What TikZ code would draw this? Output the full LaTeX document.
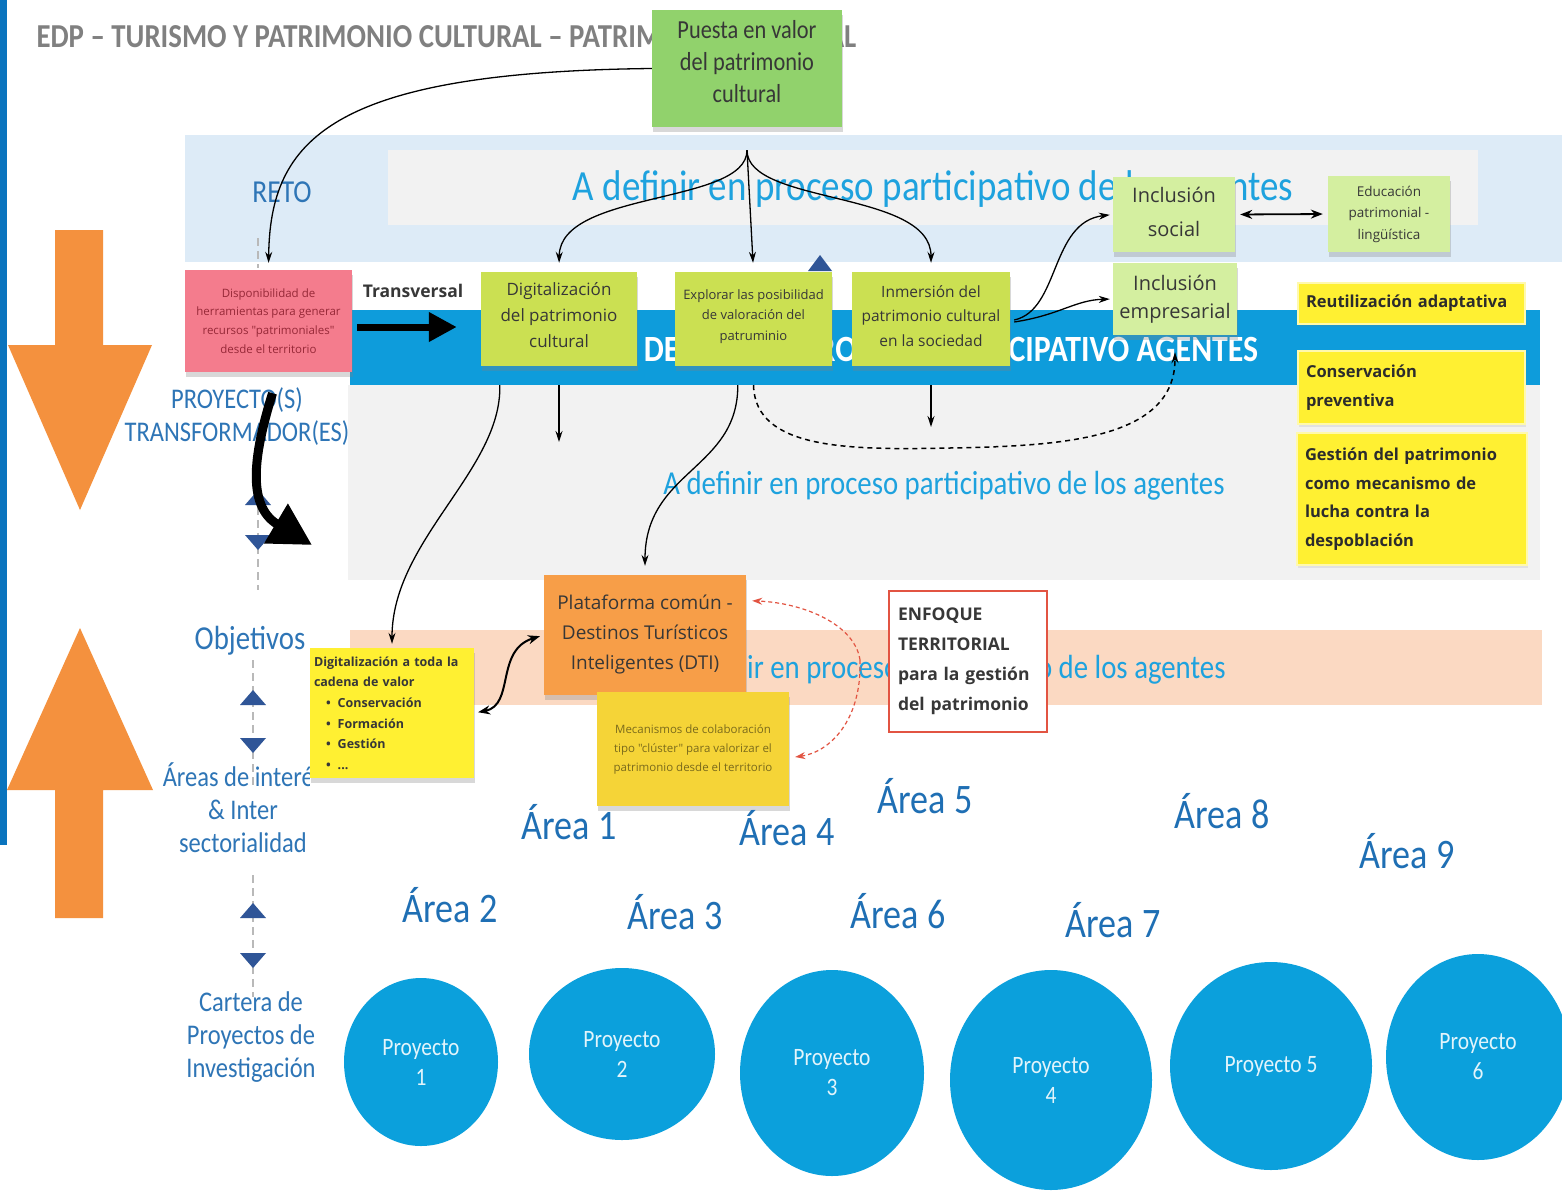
\documentclass[tikz,border=0pt]{standalone}
\usepackage{fontspec}
\setmainfont{Carlito}
\newfontfamily\lab[FakeStretch=0.86]{Carlito}
\newfontfamily\osn{Open Sans}
\usetikzlibrary{shapes.geometric, arrows.meta, shadows, calc}
\newcommand\fs[2]{\fontsize{#1}{#2}\selectfont}

\definecolor{cLeft}{RGB}{10,116,190}
\definecolor{cBand}{RGB}{221,235,247}
\definecolor{cGray}{RGB}{242,242,242}
\definecolor{cBar}{RGB}{14,156,219}
\definecolor{cPeach}{RGB}{251,217,194}
\definecolor{cBandTxt}{RGB}{30,162,222}
\definecolor{cLabel}{RGB}{46,117,182}
\definecolor{cArea}{RGB}{31,111,180}
\definecolor{cTitle}{RGB}{128,128,128}
\definecolor{cOrangeArrow}{RGB}{244,145,62}
\definecolor{cTri}{RGB}{47,85,151}
\definecolor{cSpine}{RGB}{185,185,185}
\definecolor{cGreen}{RGB}{145,210,108}
\definecolor{cPink}{RGB}{244,124,141}
\definecolor{cPinkTxt}{RGB}{150,40,55}
\definecolor{cLime}{RGB}{203,224,82}
\definecolor{cPale}{RGB}{212,239,160}
\definecolor{cYel}{RGB}{255,240,50}
\definecolor{cGold}{RGB}{245,212,55}
\definecolor{cOrange}{RGB}{247,158,72}
\definecolor{cRed}{RGB}{226,84,66}
\definecolor{cCircle}{RGB}{11,160,220}
\definecolor{cInk}{RGB}{55,55,55}

\begin{document}
\begin{tikzpicture}[x=1pt, y=-1pt,
    note/.style={rectangle, inner sep=2pt, align=center, text=cInk,
        drop shadow={opacity=0.3, shadow xshift=1pt, shadow yshift=-5pt}},
    yelbox/.style={rectangle, fill=cYel, draw=cYel!40!white, line width=1.5pt,
        inner xsep=8pt, inner ysep=2pt, align=left, text=cInk!80!black,
        font={\osn\bfseries\fs{16.5}{28.5}},
        drop shadow={opacity=0.15, shadow xshift=1pt, shadow yshift=-3pt}},
    sidetxt/.style={text=cLabel, align=center, font={\lab\fs{28.5}{33}}},
    bandtxt/.style={text=cBandTxt, font={\lab\fs{33.5}{38}}},
    arealbl/.style={text=cArea, font={\lab\fs{42}{46}}},
    proj/.style={ellipse, fill=cCircle, inner sep=0pt, align=center,
        text=white!88!cCircle, font={\lab\fs{25}{30}}},
    flow/.style={-{Stealth[length=11pt,width=7pt]}, line width=1.3pt},
    twoway/.style={{Stealth[length=12pt,width=9pt]}-{Stealth[length=12pt,width=9pt]}, line width=1.8pt},
    dashflow/.style={-{Stealth[length=11pt,width=7pt]}, line width=1.5pt, dash pattern=on 5pt off 4pt},
    redflow/.style={-{Stealth[length=10pt,width=7pt]}, line width=1.2pt, cRed, dash pattern=on 4pt off 3pt},
    fat/.style={-{Triangle[length=28pt,width=28pt]}, line width=7pt},
    spine/.style={cSpine, line width=1.5pt, dash pattern=on 8pt off 5pt},
    tri/.style={fill=cTri}]
    \useasboundingbox (0,0) rectangle (1562,1191);
    \fill[white] (0,0) rectangle (1562,1191);
    \fill[cLeft] (0,0) rectangle (7,845);

    % bands
    \fill[cBand] (185,135) rectangle (1562,262);
    \fill[cGray] (388,150) rectangle (1478,225);
    \fill[cBar] (350,310) rectangle (1540,385);
    \fill[cGray] (348,385) rectangle (1540,580);
    \fill[cPeach] (350,630) rectangle (1542,705);
    \node[bandtxt, font={\lab\fs{43}{48}}] (band1) at (933,189) {A definir en proceso participativo de los agentes};
    \node[text=white, font={\lab\bfseries\fs{37}{40}}] (band2) at (951,349) {DEFINIR EN PROCESO PARTICIPATIVO AGENTES};
    \node[bandtxt] (band3) at (944,486) {A definir en proceso participativo de los agentes};
    \node[bandtxt] (band4) at (945,670) {A definir en proceso participativo de los agentes};

    % title and left column
    \node[anchor=west, text=cTitle, font={\lab\bfseries\fs{33.5}{36}}] (title) at (33,37) {EDP – TURISMO Y PATRIMONIO CULTURAL – PATRIMONIO CULTURAL};
    \node[sidetxt, font={\lab\fs{32}{36}}] (reto) at (282,192) {RETO};
    \node[sidetxt] (proy) at (237,417) {PROYECTO(S)\\TRANSFORMADOR(ES)};
    \node[sidetxt, font={\lab\fs{33.5}{38}}] (obj) at (250,641) {Objetivos};
    \begin{scope}
        \clip (0,600) rectangle (309,900);
        \node[sidetxt] (areas) at (243,808) {Áreas de interés\\\& Inter\\sectorialidad};
    \end{scope}
    \node[sidetxt] (cartera) at (251,1037) {Cartera de\\Proyectos de\\Investigación};

    % orange arrows
    \fill[cOrangeArrow] (55,230) -- (103,230) -- (103,345) -- (152,345) -- (80,510) -- (8,345) -- (55,345) -- cycle;
    \fill[cOrangeArrow] (80,628) -- (153,790) -- (103,790) -- (103,918) -- (55,918) -- (55,790) -- (7,790) -- cycle;

    % spine
    \draw[spine] (258,238) -- (258,268);
    \draw[spine] (258,455) -- (258,590);
    \draw[spine] (253,660) -- (253,785);
    \draw[spine] (253,875) -- (253,997);
    \fill[tri] (245,505) -- (271,505) -- (258,490) -- cycle;
    \fill[tri] (245,535) -- (271,535) -- (258,550) -- cycle;
    \fill[tri] (240,705) -- (266,705) -- (253,690) -- cycle;
    \fill[tri] (240,738) -- (266,738) -- (253,753) -- cycle;
    \fill[tri] (240,918) -- (266,918) -- (253,903) -- cycle;
    \fill[tri] (240,953) -- (266,953) -- (253,968) -- cycle;
    \fill[tri] (808,271) -- (832,271) -- (820,255) -- cycle;

    % sticky notes
    \node[note, fill=cGreen, minimum width=190pt, minimum height=117pt, font={\lab\fs{26}{32}}] (puesta) at (747,68.5) {Puesta en valor\\del patrimonio\\cultural\rule[-14pt]{0pt}{0pt}};
    \node[note, fill=cPink, text=cPinkTxt, minimum width=167pt, minimum height=102pt, font={\osn\fs{11.5}{18.7}}] (pink) at (268.5,321) {Disponibilidad de\\herramientas para generar\\recursos "patrimoniales"\\desde el territorio};
    \node[text=cInk, font={\osn\bfseries\fs{17.5}{20}}] (transv) at (413,291) {Transversal};
    \node[note, fill=cLime, minimum width=156pt, minimum height=94pt, font={\osn\fs{17}{26}}] (dig) at (559,319) {Digitalización\\del patrimonio\\cultural\rule[-8pt]{0pt}{0pt}};
    \node[note, fill=cLime, minimum width=157pt, minimum height=94pt, font={\osn\fs{13}{20.5}}] (expl) at (753.5,319) {Explorar las posibilidad\\de valoración del\\patruminio\rule[-8pt]{0pt}{0pt}};
    \node[note, fill=cLime, minimum width=158pt, minimum height=94pt, font={\osn\fs{15.5}{24.5}}] (inm) at (931,319) {Inmersión del\\patrimonio cultural\\en la sociedad\rule[-6pt]{0pt}{0pt}};
    \node[note, fill=cPale, minimum width=122pt, minimum height=75pt, font={\osn\fs{20}{34}}] (incsoc) at (1174,214.5) {Inclusión\\social\rule[-6pt]{0pt}{0pt}};
    \node[note, fill=cPale, minimum width=124pt, minimum height=72pt, font={\osn\fs{20}{28}}] (incemp) at (1175,299) {Inclusión\\empresarial\rule[-4pt]{0pt}{0pt}};
    \node[note, fill=cPale, minimum width=122pt, minimum height=76pt, font={\osn\fs{13.5}{21.5}}] (edu) at (1389,214) {Educación\\patrimonial -\\lingüística};
    \node[yelbox, minimum width=227pt, minimum height=41pt, text width=211pt] (reut) at (1411.5,303.5) {Reutilización adaptativa};
    \node[yelbox, minimum width=227pt, minimum height=73pt, text width=211pt] (cons) at (1411.5,387.5) {Conservación\\preventiva};
    \node[yelbox, minimum width=230pt, minimum height=132pt, text width=214pt] (gest) at (1412,499) {Gestión del patrimonio\\como mecanismo de\\lucha contra la\\despoblación};
    \node[note, fill=cOrange, minimum width=202pt, minimum height=120pt, font={\osn\fs{19}{30}}] (plat) at (645,635) {Plataforma común -\\Destinos Turísticos\\Inteligentes (DTI)\rule[-6pt]{0pt}{0pt}};
    \node[note, fill=cYel, minimum width=164pt, minimum height=130pt, text width=156pt, align=left, inner xsep=4pt, font={\osn\bfseries\fs{12.5}{20.6}}] (cadena) at (392,713) {Digitalización a toda la\\cadena de valor\\\hspace*{12pt}\textbullet\hspace{7pt}Conservación\\\hspace*{12pt}\textbullet\hspace{7pt}Formación\\\hspace*{12pt}\textbullet\hspace{7pt}Gestión\\\hspace*{12pt}\textbullet\hspace{7pt}...};
    \node[note, fill=cGold, text=black!50!cGold, minimum width=192pt, minimum height=114pt, font={\osn\fs{11.5}{19}}] (mec) at (693,749) {Mecanismos de colaboración\\tipo "clúster" para valorizar el\\patrimonio desde el territorio};
    \node[rectangle, fill=white, draw=cRed, line width=2pt, minimum width=158pt, minimum height=141pt, text width=140pt, inner xsep=8pt, align=left, text=cInk, font={\osn\bfseries\fs{17.5}{30}}] (enf) at (968,661.5) {ENFOQUE\\TERRITORIAL\\para la gestión\\del patrimonio};

    % areas
    \node[arealbl] (a1) at (569,822) {Área 1};
    \node[arealbl] (a2) at (450,905) {Área 2};
    \node[arealbl] (a3) at (675,912) {Área 3};
    \node[arealbl] (a4) at (787,828) {Área 4};
    \node[arealbl] (a5) at (925,796) {Área 5};
    \node[arealbl] (a6) at (898,911) {Área 6};
    \node[arealbl] (a7) at (1113,920) {Área 7};
    \node[arealbl] (a8) at (1222,811) {Área 8};
    \node[arealbl] (a9) at (1407,851) {Área 9};

    % projects
    \node[proj, minimum width=154pt, minimum height=168pt] (p1) at (421,1062) {Proyecto\\1};
    \node[proj, minimum width=186pt, minimum height=172pt] (p2) at (622,1054) {Proyecto\\2};
    \node[proj, minimum width=184pt, minimum height=206pt] (p3) at (832,1073) {Proyecto\\3};
    \node[proj, minimum width=202pt, minimum height=220pt] (p4) at (1051,1080) {Proyecto\\4};
    \node[proj, minimum width=202pt, minimum height=208pt] (p5) at (1271,1066) {Proyecto 5};
    \node[proj, minimum width=184pt, minimum height=206pt] (p6) at (1478,1057) {Proyecto\\6};

    % connectors
    \coordinate (tfm) at (312,545);
    \coordinate (digend) at (559,442);
    \coordinate (inmend) at (931,427);
    \coordinate (bulge) at (860,660);
    \draw[flow, shorten >=7pt] (puesta.west) .. controls (330,72) and (270,140) .. (pink.north);
    \draw[flow, shorten >=9pt] ($(puesta.south)+(0,23)$) .. controls (747,205) and (560,190) .. (dig.north);
    \draw[flow, shorten >=9pt] ($(puesta.south)+(0,23)$) -- (expl.north);
    \draw[flow, shorten >=9pt] ($(puesta.south)+(0,23)$) .. controls (747,205) and (931,190) .. (inm.north);
    \draw[fat] ($(pink.east)+(5,6)$) -- ($(dig.west)+(-24,8)$);
    \draw[-{Triangle[length=42pt,width=44pt]}, line width=9pt] ($(pink.south)+(4,21)$) .. controls (255,450) and (245,505) .. (tfm);
    \draw[flow, shorten >=4pt] ($(dig.south west)+(19,19)$) .. controls (502,470) and (392,540) .. (cadena.north);
    \draw[flow] ($(dig.south)+(0,19)$) -- (digend);
    \draw[flow, shorten >=9pt] ($(expl.south west)+(63,19)$) .. controls (738,470) and (645,470) .. (plat.north);
    \draw[dashflow, shorten >=17pt] ($(expl.south)+(0,19)$) .. controls (755,450) and (850,450) .. (950,448) .. controls (1060,446) and (1175,440) .. (incemp.south);
    \draw[flow] ($(inm.south)+(0,19)$) -- (inmend);
    \draw[flow, shorten >=3pt] ($(inm.east)+(4,1)$) .. controls (1060,310) and (1050,222) .. (incsoc.west);
    \draw[flow, shorten >=3pt] ($(inm.east)+(4,3)$) .. controls (1060,315) and (1075,300) .. (incemp.west);
    \draw[twoway, shorten <=5pt, shorten >=5pt] (incsoc.east) -- (edu.west);
    \draw[twoway, line width=2pt, shorten <=4pt, shorten >=4pt] (cadena.east) .. controls (515,705) and (495,650) .. (plat.west);
    \draw[redflow] (bulge) .. controls (855,625) and (805,603) .. ($(plat.north east)+(6,26)$);
    \draw[redflow] (bulge) .. controls (862,720) and (830,752) .. ($(mec.east)+(6,8)$);
\end{tikzpicture}
\end{document}
